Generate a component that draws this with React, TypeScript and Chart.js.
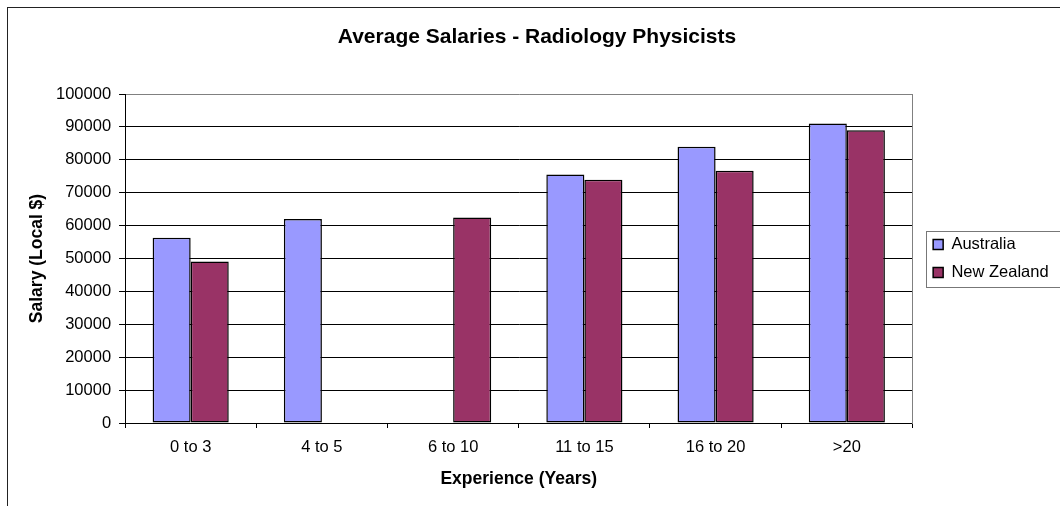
import { useEffect, useRef } from 'react';
import { Chart, registerables } from 'chart.js';

Chart.register(...registerables);

const categories = ['0 to 3', '4 to 5', '6 to 10', '11 to 15', '16 to 20', '>20'];
const australia = [56300, 62000, null, 75500, 84000, 91000];
const newZealand = [49100, null, 62500, 73900, 76700, 89000];
const seriesNames = ['Australia', 'New Zealand'];
const seriesColors = ['#9999FF', '#993366'];
const chartTitle = 'Average Salaries - Radiology Physicists';
const xTitle = 'Experience (Years)';
const yTitle = 'Salary (Local $)';
const yMin = 0;
const yMax = 100000;
const yStep = 10000;

const FONT = '"Liberation Sans", Arial, Helvetica, sans-serif';
const CANVAS_W = 1074;
const CANVAS_H = 506;

const framePlugin = {
  id: 'frame',
  beforeDraw(chart: any) {
    const { ctx, width, height } = chart;
    ctx.save();
    ctx.fillStyle = '#ffffff';
    ctx.fillRect(0, 0, width, height);
    ctx.strokeStyle = '#222222';
    ctx.lineWidth = 1;
    ctx.strokeRect(7.5, 7.5, width - 15, height + 20);
    ctx.restore();
  },
  afterDraw(chart: any) {
    const lg = chart.legend;
    const hb = lg && lg.legendHitBoxes;
    if (!hb || !hb.length) return;
    const { ctx } = chart;
    const first = hb[0];
    const last = hb[hb.length - 1];
    const l = Math.round(first.left - 7) + 0.5;
    const t = Math.round(first.top - 5) + 0.5;
    const b = Math.round(last.top + last.height + 6) + 0.5;
    ctx.save();
    ctx.strokeStyle = '#777777';
    ctx.lineWidth = 1;
    ctx.strokeRect(l, t, chart.width - l + 10, b - t);
    ctx.restore();
  },
};

export default function App() {
  const ref = useRef<HTMLCanvasElement>(null);

  useEffect(() => {
    if (!ref.current) return;
    Chart.defaults.font.family = FONT;
    Chart.defaults.color = '#000';
    const chart = new Chart(ref.current, {
      type: 'bar',
      data: {
        labels: categories,
        datasets: [
          {
            label: seriesNames[0],
            data: australia,
            backgroundColor: seriesColors[0],
            borderColor: '#000',
            borderWidth: 1.5,
            borderSkipped: false,
            categoryPercentage: 0.58,
            barPercentage: 1,
          },
          {
            label: seriesNames[1],
            data: newZealand,
            backgroundColor: seriesColors[1],
            borderColor: '#000',
            borderWidth: 1.5,
            borderSkipped: false,
            categoryPercentage: 0.58,
            barPercentage: 1,
          },
        ],
      },
      options: {
        responsive: false,
        animation: false,
        events: [],
        layout: { padding: { left: 7, right: 7, top: 8, bottom: 0 } },
        plugins: {
          title: {
            display: true,
            text: chartTitle,
            color: '#000',
            font: { size: 21, weight: 'bold' },
            padding: { top: 16.4, bottom: 44.4 },
          },
          legend: {
            position: 'right',
            align: 'center',
            fullSize: false,
            weight: 1000,
            labels: {
              color: '#000',
              boxWidth: 10,
              boxHeight: 10,
              padding: 11.5,
              font: { size: 16.5 },
            },
          },
          tooltip: { enabled: false },
        },
        scales: {
          x: {
            grid: {
              offset: true,
              drawOnChartArea: false,
              color: '#000',
              tickLength: 5,
            },
            border: { color: '#000' },
            ticks: {
              color: '#000',
              padding: 9.5,
              maxRotation: 0,
              autoSkip: false,
              font: { size: 16.5 },
            },
            title: {
              display: true,
              text: xTitle,
              color: '#000',
              font: { size: 17.5, weight: 'bold' },
              padding: { top: 2.2, bottom: 16 },
            },
          },
          y: {
            min: yMin,
            max: yMax,
            ticks: {
              stepSize: yStep,
              color: '#000',
              padding: 8,
              font: { size: 16.5 },
              callback: (v: any) => String(v),
            },
            grid: {
              color: (c: any) => (c.tick && c.tick.value === yMax ? '#808080' : '#000'),
              tickColor: '#000',
              tickLength: 6,
            },
            border: { color: '#000' },
            title: {
              display: true,
              text: yTitle,
              color: '#000',
              font: { size: 17.5, weight: 'bold' },
              padding: { top: 20, bottom: 0 },
            },
          },
          yInner: {
            type: 'linear',
            position: 'right',
            grid: { display: false, drawTicks: false },
            ticks: { display: false },
            border: { display: true, color: '#808080' },
            afterFit: (s: any) => {
              s.width = 9.2;
            },
          },
          yOuter: {
            type: 'linear',
            position: 'right',
            weight: 2000,
            grid: { display: false, drawTicks: false },
            ticks: { display: false },
            border: { display: false },
            afterFit: (s: any) => {
              s.width = 12.85;
            },
          },
        },
      },
      plugins: [framePlugin],
    } as any);
    return () => chart.destroy();
  }, []);

  return (
    <div
      style={{
        position: 'fixed',
        left: 0,
        top: 0,
        width: 1060,
        height: 506,
        overflow: 'hidden',
        background: '#fff',
      }}
    >
      <canvas
        ref={ref}
        width={CANVAS_W}
        height={CANVAS_H}
        style={{ display: 'block', width: CANVAS_W, height: CANVAS_H }}
      />
    </div>
  );
}
